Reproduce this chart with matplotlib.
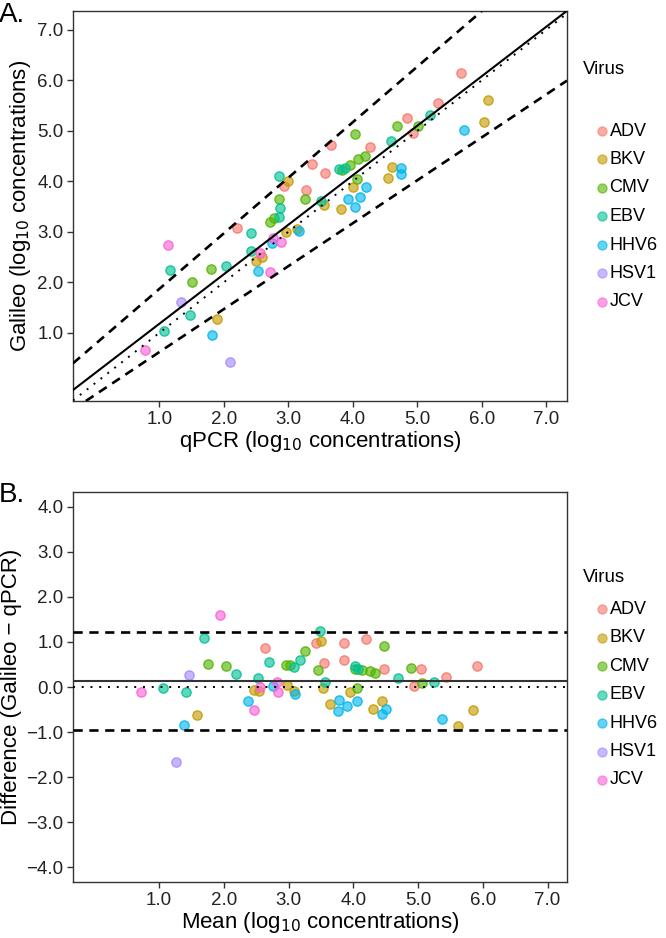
import numpy as np
import matplotlib.pyplot as plt
from matplotlib.colors import to_rgba

plt.rcParams['font.family'] = ['Liberation Sans', 'DejaVu Sans']

viruses = ['ADV', 'BKV', 'CMV', 'EBV', 'HHV6', 'HSV1', 'JCV']
colors = ['#F8766D', '#C49A00', '#53B400', '#00C094', '#00B6EB', '#A58AFF', '#FB61D7']

# log10 concentrations, qPCR vs Galileo
qpcr_adv = [3.66, 3.37, 3.56, 4.27, 2.93, 3.28, 5.67, 5.32, 4.93, 4.84, 2.21]
galileo_adv = [4.72, 4.34, 4.16, 4.67, 3.91, 3.82, 6.14, 5.54, 4.95, 5.25, 3.07]

qpcr_bkv = [2.99, 4.00, 6.10, 6.04, 4.61, 4.55, 3.55, 2.96, 3.13, 2.50, 2.59, 1.89, 3.82]
galileo_bkv = [4.01, 3.89, 5.60, 5.18, 4.29, 4.07, 3.52, 3.00, 3.05, 2.43, 2.51, 1.27, 3.45]

qpcr_cmv = [4.03, 3.83, 3.95, 4.08, 4.19, 4.06, 2.86, 3.26, 5.01, 4.68, 2.78, 2.72, 1.80, 1.50]
galileo_cmv = [4.93, 4.22, 4.32, 4.44, 4.49, 4.04, 3.65, 3.64, 5.10, 5.10, 3.27, 3.20, 2.26, 2.01]

qpcr_ebv = [2.86, 3.50, 2.87, 2.86, 2.42, 2.42, 1.16, 2.04, 1.47, 1.07, 4.59, 5.19, 3.79, 3.88]
galileo_ebv = [4.11, 3.61, 3.47, 3.30, 2.97, 2.62, 2.24, 2.33, 1.35, 1.04, 4.79, 5.31, 4.25, 4.27]

qpcr_hhv6 = [4.21, 3.92, 4.11, 4.04, 5.73, 4.74, 4.75, 3.17, 2.75, 2.53, 1.81]
galileo_hhv6 = [3.89, 3.64, 3.69, 3.50, 5.02, 4.26, 4.15, 3.02, 2.77, 2.23, 0.96]

qpcr_hsv1 = [1.33, 2.09]
galileo_hsv1 = [1.60, 0.43]

qpcr_jcv = [2.76, 2.89, 1.14, 2.56, 2.72, 0.78]
galileo_jcv = [2.88, 2.79, 2.73, 2.57, 2.21, 0.66]

qpcr = [qpcr_adv, qpcr_bkv, qpcr_cmv, qpcr_ebv, qpcr_hhv6, qpcr_hsv1, qpcr_jcv]
galileo = [galileo_adv, galileo_bkv, galileo_cmv, galileo_ebv, galileo_hhv6, galileo_hsv1, galileo_jcv]

# regression line and its bounds (intercept, slope)
fit_line = (0.20, 0.98)
upper_line = (0.77, 1.10)
lower_line = (-0.23, 0.85)

# Bland-Altman bias and limits of agreement
bias = 0.13
loa_upper = 1.23
loa_lower = -0.96

ticks_a = [1.0, 2.0, 3.0, 4.0, 5.0, 6.0, 7.0]
ticks_b = [-4.0, -3.0, -2.0, -1.0, 0.0, 1.0, 2.0, 3.0, 4.0]

W, H = 666, 938
fig = plt.figure(figsize=(W / 100, H / 100), dpi=100)


def px_axes(left, top, right, bottom):
    return fig.add_axes([left / W, 1 - bottom / H, (right - left) / W, (bottom - top) / H])


def fig_xy(x, y):
    return x / W, 1 - y / H


ax_a = px_axes(73, 11, 567, 401)
ax_b = px_axes(73, 492, 567, 882)

dark = '#333333'
pt_size = 44
dashed = (0, (3.5, 2.5))
dotted = (0, (1, 3.5))


def style(ax):
    for s in ax.spines.values():
        s.set_color(dark)
        s.set_linewidth(1.0)
    ax.tick_params(direction='out', length=4, width=1, color=dark,
                   labelsize=13.5, labelcolor='#222222', pad=3)


def legend(title_y, first_y):
    # hand-built legend, ggplot style
    fig.text(*fig_xy(583, title_y), 'Virus', fontsize=13.5, va='center', ha='left')
    for i, (name, c) in enumerate(zip(viruses, colors)):
        y = first_y + i * 28.5
        fig.lines.append(plt.Line2D(*zip(fig_xy(601.5, y)), transform=fig.transFigure,
                                    ls='none', marker='o', markersize=6.5,
                                    markerfacecolor=to_rgba(c, 0.6), markeredgecolor=to_rgba(c, 0.6)))
        fig.text(*fig_xy(609.5, y), name, fontsize=13, va='center', ha='left')


def dots(ax, x, y, c):
    ax.scatter(x, y, s=pt_size, facecolor=to_rgba(c, 0.62), edgecolor=to_rgba(c, 0.85),
               linewidths=1, zorder=2)


# Panel A
for q, g, c in zip(qpcr, galileo, colors):
    dots(ax_a, q, g, c)
ax_a.axline((0, fit_line[0]), slope=fit_line[1], color='black', lw=1.5, zorder=3)
ax_a.axline((0, upper_line[0]), slope=upper_line[1], color='black', lw=1.9, ls=dashed, zorder=3)
ax_a.axline((0, lower_line[0]), slope=lower_line[1], color='black', lw=1.9, ls=dashed, zorder=3)
ax_a.axline((0, 0), slope=1, color='black', lw=1.4, ls=dotted, zorder=3)
ax_a.set_xlim(-0.34, 7.32)
ax_a.set_ylim(-0.35, 7.37)
ax_a.set_xticks(ticks_a)
ax_a.set_yticks(ticks_a)
ax_a.set_xticklabels([f'{t:.1f}' for t in ticks_a])
ax_a.set_yticklabels([f'{t:.1f}' for t in ticks_a])
ax_a.set_xlabel('qPCR (log$_{10}$ concentrations)', fontsize=16, labelpad=1)
ax_a.set_ylabel('Galileo (log$_{10}$ concentrations)', fontsize=16, labelpad=3)
style(ax_a)
legend(70, 131)

# Panel B
for q, g, c in zip(qpcr, galileo, colors):
    q = np.array(q)
    g = np.array(g)
    dots(ax_b, (q + g) / 2, g - q, c)
ax_b.axhline(bias, color=dark, lw=1.5, zorder=3)
ax_b.axhline(0, color='black', lw=1.4, ls=dotted, zorder=3)
ax_b.axhline(loa_upper, color='black', lw=1.9, ls=dashed, zorder=3)
ax_b.axhline(loa_lower, color='black', lw=1.9, ls=dashed, zorder=3)
ax_b.set_xlim(-0.33, 7.3)
ax_b.set_ylim(-4.33, 4.33)
ax_b.set_xticks(ticks_a)
ax_b.set_yticks(ticks_b)
ax_b.set_xticklabels([f'{t:.1f}' for t in ticks_a])
ax_b.set_yticklabels([f'{t:.1f}'.replace('-', '\u2212') for t in ticks_b])
ax_b.set_xlabel('Mean (log$_{10}$ concentrations)', fontsize=16, labelpad=1)
ax_b.set_ylabel('Difference (Galileo \u2212 qPCR)', fontsize=16, labelpad=3)
style(ax_b)
legend(578, 609)

fig.text(*fig_xy(-1, 2), 'A.', fontsize=20, va='top', ha='left')
fig.text(*fig_xy(-1, 482), 'B.', fontsize=20, va='top', ha='left')

fig.savefig('out.png', dpi=100)
